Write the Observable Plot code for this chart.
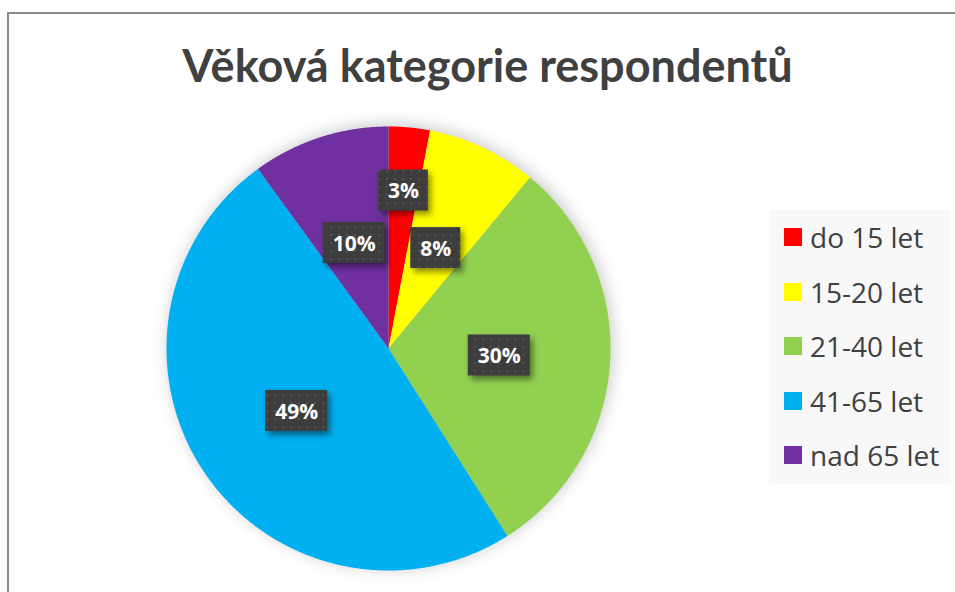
<!DOCTYPE html>
<html>
<head>
<meta charset="utf-8">
<script src="https://cdn.jsdelivr.net/npm/d3@7"></script>
<script src="https://cdn.jsdelivr.net/npm/@observablehq/plot@0.6"></script>
<style>
  html, body { margin: 0; padding: 0; background: #fff; }
  #wrap { position: relative; width: 955px; height: 592px; overflow: hidden; font-family: Lato, "Open Sans", sans-serif; }
  #frame { position: absolute; left: 7px; top: 12px; width: 1000px; height: 700px; border-left: 2px solid #8a8a8a; border-top: 2px solid #8a8a8a; box-sizing: border-box; }
  #title { position: absolute; left: 0; width: 975px; top: 35px; text-align: center; font-weight: 700; font-size: 45px; color: #404040; line-height: 60px; white-space: nowrap; }
  #chart { position: absolute; left: 0; top: 0; }
  #legend { position: absolute; left: 769px; top: 210px; width: 182px; height: 274px; background: #f8f8f8; }
  .item { position: absolute; left: 15px; height: 30px; display: flex; align-items: center; font-family: "Open Sans", sans-serif; font-size: 28px; color: #404040; white-space: nowrap; }
  .sw { width: 18px; height: 18px; margin-right: 8px; flex: none; }
</style>
</head>
<body>
<div id="wrap">
  <div id="frame"></div>
  <div id="chart"></div>
  <div id="title">Věková kategorie respondentů</div>
  <div id="legend"></div>
</div>
<script>
const categories = ["do 15 let", "15-20 let", "21-40 let", "41-65 let", "nad 65 let"];
const shares = [3, 8, 30, 49, 10];
const labels = ["3%", "8%", "30%", "49%", "10%"];
const colors = ["#FF0000", "#FFFF00", "#92D050", "#00B0F0", "#7030A0"];

const R = 222;
const pie = d3.pie().sort(null).value(d => d)(shares);

// slice outlines in chart coordinates (pixels relative to pie centre)
const slicePts = [];
pie.forEach((p, i) => {
  const n = Math.max(4, Math.ceil((p.endAngle - p.startAngle) / 0.005));
  slicePts.push({cat: categories[i], x: 0, y: 0});
  for (let k = 0; k <= n; k++) {
    const a = p.startAngle + (p.endAngle - p.startAngle) * k / n;
    slicePts.push({cat: categories[i], x: R * Math.sin(a), y: -R * Math.cos(a)});
  }
});

const labelData = pie.map((p, i) => {
  const a = (p.startAngle + p.endAngle) / 2;
  const rr = shares[i] < 5 ? 0.715 * R : 0.5 * R;
  const w = labels[i].length > 2 ? 62 : 50;
  const cx = rr * Math.sin(a), cy = -rr * Math.cos(a);
  return {label: labels[i], cx, cy, x1: cx - w / 2, x2: cx + w / 2, y1: cy - 20.5, y2: cy + 20.5};
});

const svg = Plot.plot({
  width: 955,
  height: 592,
  margin: 0,
  x: {domain: [-388, 567], range: [0, 955], axis: null},
  y: {domain: [-348, 244], range: [0, 592], axis: null},
  color: {domain: categories, range: colors},
  style: {background: "transparent", overflow: "visible"},
  marks: [
    Plot.line(slicePts, {x: "x", y: "y", z: "cat", fill: "cat", stroke: "none", curve: "linear"}),
    Plot.rect(labelData, {x1: "x1", x2: "x2", y1: "y1", y2: "y2", fill: "#404040"}),
    Plot.text(labelData, {x: "cx", y: "cy", text: "label", fill: "white", fontSize: 21, fontWeight: 700, fontFamily: "'Open Sans', sans-serif", dy: 1})
  ]
});

// pattern & shadows
const s = d3.select(svg);
const defs = s.insert("defs", ":first-child");
const pat = defs.append("pattern").attr("id", "dots").attr("width", 8).attr("height", 8).attr("patternUnits", "userSpaceOnUse");
pat.append("rect").attr("width", 8).attr("height", 8).attr("fill", "#3d3d3d");
pat.append("rect").attr("x", 2).attr("y", 2).attr("width", 2).attr("height", 2).attr("fill", "#525252");
s.selectAll("g[aria-label=line]").style("filter", "drop-shadow(2px -2px 8px rgba(0,0,0,0.22))");
s.selectAll("g[aria-label=rect] rect").attr("fill", "url(#dots)");
s.selectAll("g[aria-label=rect]").style("filter", "drop-shadow(3px 4px 3px rgba(0,0,0,0.45))");
document.getElementById("chart").appendChild(svg);

// legend
const leg = document.getElementById("legend");
categories.forEach((c, i) => {
  const it = document.createElement("div");
  it.className = "item";
  it.style.top = (12 + i * 54.5) + "px";
  it.innerHTML = `<span class="sw" style="background:${colors[i]}"></span><span>${c}</span>`;
  leg.appendChild(it);
});
</script>
</body>
</html>
